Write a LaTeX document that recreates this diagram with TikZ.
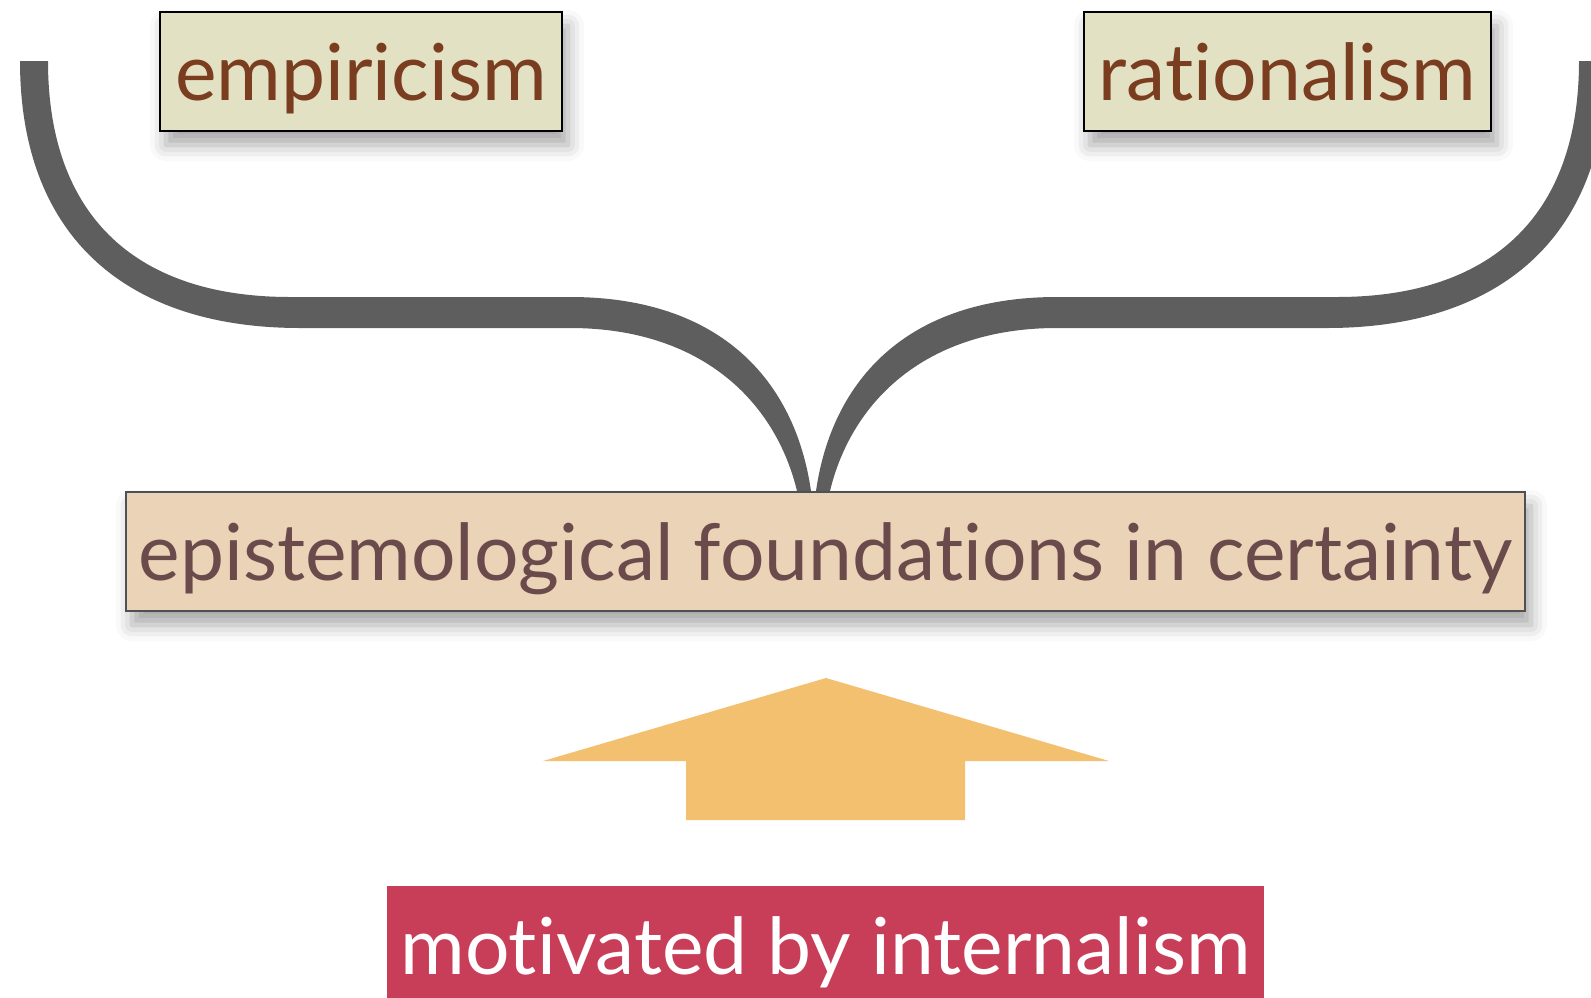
\documentclass[tikz,border=0pt]{standalone}
\usepackage{fontspec}
\setmainfont{Lato}[Ligatures={NoCommon}]
\usetikzlibrary{shadows.blur}
\definecolor{bracegray}{HTML}{5E5E5E}
\definecolor{schoolfill}{HTML}{E3E1C4}
\definecolor{schooltext}{HTML}{7A3D1F}
\definecolor{basefill}{HTML}{EAD3B6}
\definecolor{basedraw}{HTML}{4D5155}
\definecolor{basetext}{HTML}{6B4A4C}
\definecolor{arrowfill}{HTML}{F2C06E}
\definecolor{motivefill}{HTML}{C83E58}
\begin{document}
\begin{tikzpicture}[
    x=0.5pt, y=-0.5pt,
    every node/.style={font=\fontsize{39.3}{47}\selectfont, inner sep=0pt,
        text height=30pt, text depth=1.5pt, minimum height=59.5pt},
    boxshadow/.style={blur shadow={shadow xshift=3pt, shadow yshift=-7pt,
        shadow blur radius=8pt, shadow opacity=35}},
    school/.style={draw=black, line width=1pt, fill=schoolfill, text=schooltext, boxshadow},
    base/.style={draw=basedraw, line width=1pt, fill=basefill, text=basetext, boxshadow},
    motive/.style={fill=motivefill, text=white}
]
\clip (0,0) rectangle (1591,997);
% the two arms of the brace
\foreach \side/\sh in {1/0, -1/1627}
    \fill[bracegray, shift={(\sh,0)}, xscale=\side]
        (20,61) .. controls (20,240) and (130,328) .. (300,328) -- (570,328)
        .. controls (700,328) and (775,400) .. (797,491)
        -- (811,491) .. controls (795,380) and (720,297) .. (570,297)
        -- (290,297) .. controls (140,297) and (48,220) .. (48,61) -- cycle;
% boxes
\node[school, minimum width=201pt] (empiricism) at (361,71.5) {empiricism};
\node[school, minimum width=203.5pt] (rationalism) at (1287.5,71.5) {rationalism};
\node[base, minimum width=699.5pt] (found) at (825.5,551.5) {epistemological foundations in certainty};
\node[motive, minimum width=438.5pt] (motive) at (825.5,945.5) {motivated by internalism};
% block arrow
\fill[arrowfill] (826,678) -- (1109,761) -- (965,761) -- (965,820)
    -- (686,820) -- (686,761) -- (543,761) -- cycle;
\end{tikzpicture}
\end{document}
